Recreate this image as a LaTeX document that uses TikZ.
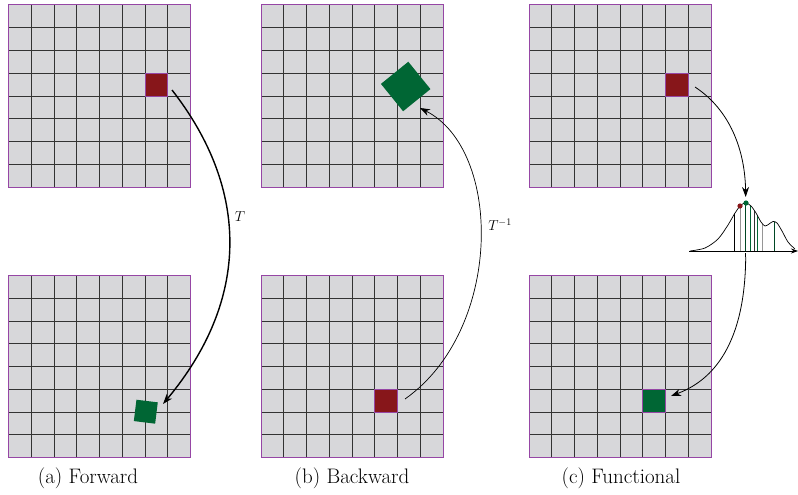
\documentclass[tikz,border=0pt]{standalone}
\usetikzlibrary{arrows.meta}
\definecolor{cellfill}{RGB}{215,215,218}
\definecolor{gframe}{RGB}{150,70,165}
\definecolor{cred}{RGB}{135,22,26}
\definecolor{cgreen}{RGB}{0,102,52}
\definecolor{lgray}{RGB}{150,150,150}
\tikzset{
  gridline/.style={black!80,line width=0.9pt},
  gridframe/.style={draw=gframe,line width=1pt,minimum size=182pt,inner sep=0pt},
  cellnode/.style={draw=gframe,line width=1pt,minimum size=22.75pt,inner sep=0pt},
  rotsq/.style={fill=cgreen,inner sep=0pt},
  conn/.style={line width=0.8pt,-{Stealth[length=10pt,width=7pt]}},
  caption/.style={font=\fontsize{21}{24}\selectfont,inner sep=0pt},
  maplabel/.style={font=\fontsize{14}{16}\selectfont,inner sep=0pt}
}
\newcommand\mygrid[3]{%
  \fill[cellfill] (#2,#3) rectangle ++(182,182);
  \foreach \i in {1,...,7} {
    \draw[gridline] (#2+\i*22.75,#3) -- ++(0,182);
    \draw[gridline] (#2,#3+\i*22.75) -- ++(182,0);
  }
  \node[gridframe] (#1) at (#2+91,#3+91) {};
}
\begin{document}
\begin{tikzpicture}[x=1pt,y=-1pt]
\useasboundingbox (0,0) rectangle (798,495);
% grids
\mygrid{gAt}{8.5}{5}
\mygrid{gBt}{261}{5}
\mygrid{gCt}{529}{5}
\mygrid{gAb}{8.5}{275.5}
\mygrid{gBb}{261}{275.5}
\mygrid{gCb}{529}{275.5}
% cells
\node[cellnode,fill=cred] (redA) at (156.375,84.625) {};
\node[cellnode,fill=cred] (redB) at (386.125,400.625) {};
\node[cellnode,fill=cred] (redC) at (676.875,84.625) {};
\node[cellnode,fill=cgreen] (greenC) at (654.125,400.625) {};
\node[rotsq,minimum size=21.5pt,rotate=-7] (greenA) at (145.8,411.7) {};
\node[rotsq,minimum size=35.2pt,rotate=39] (greenB) at (405.7,86.5) {};
% distribution
\coordinate (dtop) at (745.7,197);
\coordinate (dbot) at (745.7,257);
\begin{scope}
  \clip plot[smooth] coordinates {(690,251) (705,248) (718,239) (728,225) (735,213) (741,205) (746,203) (751,206) (756,213) (761,222) (765,226) (769,224) (773,221.5) (777,223) (782,231) (788,242) (795,249) (798,251)} -- cycle;
  \draw[black,line width=0.8pt] (734.3,251) -- ++(0,-60);
  \draw[lgray,line width=0.8pt] (740,251) -- ++(0,-60);
  \draw[cgreen!70!black,line width=0.8pt] (745.7,251) -- ++(0,-60);
  \draw[cgreen,line width=0.8pt] (750,251) -- ++(0,-60);
  \draw[black!80,line width=0.8pt] (754,251) -- ++(0,-60);
  \draw[cgreen,line width=0.8pt] (757.7,251) -- ++(0,-60);
  \draw[lgray,line width=0.8pt] (762.3,251) -- ++(0,-60);
  \draw[cgreen!70!black,line width=0.8pt] (774.3,251) -- ++(0,-60);
\end{scope}
\draw[line width=0.7pt] plot[smooth] coordinates {(690,251) (705,248) (718,239) (728,225) (735,213) (741,205) (746,203) (751,206) (756,213) (761,222) (765,226) (769,224) (773,221.5) (777,223) (782,231) (788,242) (795,249)};
\draw[line width=0.7pt,-{Stealth[length=7pt,width=5pt]}] (689,251) -- (798,251);
\draw[line width=0.6pt] (745.7,253) -- (745.7,257);
\fill[cred] (740,206) circle (2.6);
\fill[cgreen] (746,203) circle (2.6);
% connectors
\coordinate (sA) at (172,90);
\coordinate (tA) at (163,404);
\coordinate (sB) at (405,399);
\coordinate (tB) at (420,108);
\coordinate (sC) at (695,87);
\coordinate (tC) at (671,396);
\draw[conn,line width=1.4pt] (sA) .. controls (250,190) and (250,300) .. (tA);
\node[maplabel] (lT) at (240,217) {$T$};
\draw[conn,line width=0.7pt] (sB) .. controls (503,330) and (503,150) .. (tB);
\node[maplabel] (lTi) at (500,225) {$T^{-1}$};
\draw[conn] (sC) .. controls (730,110) and (745,150) .. (dtop);
\draw[conn] (dbot) .. controls (745,360) and (700,385) .. (tC);
% captions
\node[caption] (capA) at (88,478) {(a) Forward};
\node[caption] (capB) at (352,478) {(b) Backward};
\node[caption] (capC) at (621,478) {(c) Functional};
\end{tikzpicture}
\end{document}
